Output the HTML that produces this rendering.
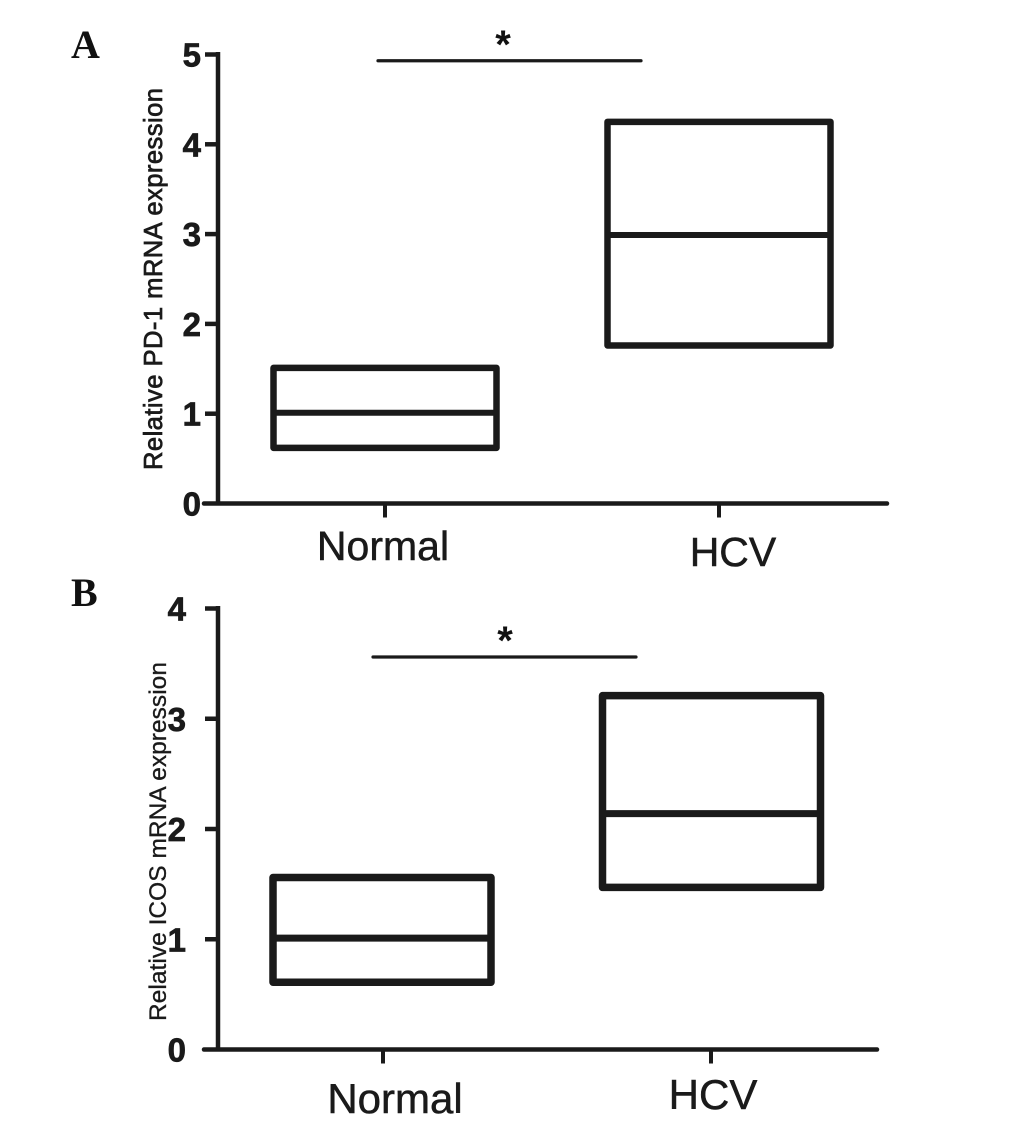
<!DOCTYPE html>
<html lang="en">
<head>
<meta charset="utf-8">
<title>Relative PD-1 and ICOS mRNA expression</title>
<style>
html,body{margin:0;padding:0;background:#fff;width:1033px;height:1122px;overflow:hidden}
svg{display:block}
text{font-family:"Liberation Sans",Arial,sans-serif;fill:#1a1a1a}
.panel{font-family:"Liberation Serif",serif;font-weight:bold;font-size:40px;fill:#111}
</style>
</head>
<body>
<svg id="chart" xmlns="http://www.w3.org/2000/svg" width="1033" height="1122" viewBox="0 0 1033 1122">
  <rect width="1033" height="1122" fill="#fff"/>
  <text class="panel" x="71" y="58">A</text>
  <text class="panel" x="71" y="606">B</text>
  <g id="panel-a"></g>
  <g id="panel-b"></g>
</svg>
<script>
const categories = ['Normal', 'HCV'];

const pd1Ticks = [0, 1, 2, 3, 4, 5];
const pd1Upper = [1.51, 4.25];
const pd1Median = [1.01, 2.99];
const pd1Lower = [0.62, 1.76];
const pd1Significance = 4.93;

const icosTicks = [0, 1, 2, 3, 4];
const icosUpper = [1.56, 3.21];
const icosMedian = [1.01, 2.14];
const icosLower = [0.61, 1.47];
const icosSignificance = 3.56;

const NS = 'http://www.w3.org/2000/svg';
const INK = '#1a1a1a';

function el(parent, tag, attrs, content) {
  const node = document.createElementNS(NS, tag);
  for (const key in attrs) node.setAttribute(key, attrs[key]);
  if (content !== undefined) node.textContent = content;
  parent.appendChild(node);
  return node;
}

function drawPanel(root, cfg) {
  const yScale = v => cfg.y0 + (cfg.yTop - cfg.y0) * v / cfg.ticks[cfg.ticks.length - 1];
  const xScale = i => cfg.xStart + cfg.xStep * i;
  const slug = cfg.slug;

  const yAxis = el(root, 'line', {x1: cfg.axisX, x2: cfg.axisX, y1: yScale(cfg.ticks[cfg.ticks.length - 1]) - 2.5, y2: cfg.y0 + 2, stroke: INK, 'stroke-width': 4.5});
  
  

  const xAxis = el(root, 'line', {x1: cfg.axisX - 14, x2: cfg.xEnd, y1: cfg.y0, y2: cfg.y0, stroke: INK, 'stroke-width': 4.5, 'stroke-linecap': 'round'});
  
  

  cfg.ticks.forEach(t => {
    const py = yScale(t);
    if (t !== 0) {
      const tick = el(root, 'line', {x1: cfg.axisX - 13, x2: cfg.axisX, y1: py, y2: py, stroke: INK, 'stroke-width': 4.5});
      
      
    }
    const label = el(root, 'text', {x: cfg.tickLabelX, y: py + 12, 'text-anchor': 'end', 'font-size': cfg.tickFont, 'font-weight': 'bold', stroke: INK, 'stroke-width': 0.7}, String(t));
    
    
  });

  cfg.categories.forEach((name, i) => {
    const cx = xScale(i);
    const tick = el(root, 'line', {x1: cx, x2: cx, y1: cfg.y0, y2: cfg.y0 + 14, stroke: INK, 'stroke-width': 4});
    
    

    const label = el(root, 'text', {x: cfg.catLabelX[i], y: cfg.catLabelY[i], 'text-anchor': 'middle', 'font-size': cfg.catFont, stroke: INK, 'stroke-width': 0.5}, name);
    
    

    const left = cx + cfg.boxOffset[i] - cfg.boxWidth / 2;
    const top = yScale(cfg.upper[i]);
    const bottom = yScale(cfg.lower[i]);
    const box = el(root, 'rect', {x: left, y: top, width: cfg.boxWidth, height: bottom - top, fill: 'none', stroke: INK, 'stroke-width': cfg.boxStroke, 'stroke-linejoin': 'round'});
    
    

    const my = yScale(cfg.median[i]);
    const median = el(root, 'line', {x1: left, x2: left + cfg.boxWidth, y1: my, y2: my, stroke: INK, 'stroke-width': cfg.medianStroke});
    
    
  });

  const sy = yScale(cfg.significance);
  const bar = el(root, 'line', {x1: cfg.sigX1, x2: cfg.sigX2, y1: sy, y2: sy, stroke: INK, 'stroke-width': 3.2, 'stroke-linecap': 'round'});
  
  

  const star = el(root, 'text', {x: cfg.starX, y: sy + cfg.starDy, 'text-anchor': 'middle', 'font-size': 40, 'font-weight': 'bold', style: 'fill:#111'}, '*');
  
  

  const title = el(root, 'text', {
    transform: 'translate(' + cfg.titleX + ',' + cfg.titleY + ') rotate(-90)',
    'font-size': cfg.titleFont,
    stroke: INK,
    'stroke-width': cfg.titleStroke,
    textLength: cfg.titleLength,
    lengthAdjust: 'spacing'
  }, cfg.title);
  
  
}

drawPanel(document.getElementById('panel-a'), {
  slug: 'pd1', categories: categories, ticks: pd1Ticks,
  upper: pd1Upper, median: pd1Median, lower: pd1Lower, significance: pd1Significance,
  y0: 503.5, yTop: 54.5, axisX: 218, xEnd: 887,
  xStart: 385, xStep: 334, boxWidth: 223, boxOffset: [0, 0], boxStroke: 6.5, medianStroke: 6,
  tickLabelX: 201, tickFont: 33,
  catFont: 41, catLabelX: [383, 733], catLabelY: [560, 566],
  sigX1: 378, sigX2: 641, starX: 503, starDy: -3,
  title: 'Relative PD-1 mRNA expression', titleX: 162, titleY: 470,
  titleFont: 25.6, titleStroke: 0.7, titleLength: 382
});

drawPanel(document.getElementById('panel-b'), {
  slug: 'icos', categories: categories, ticks: icosTicks,
  upper: icosUpper, median: icosMedian, lower: icosLower, significance: icosSignificance,
  y0: 1049.5, yTop: 608.5, axisX: 218, xEnd: 877,
  xStart: 383, xStep: 328, boxWidth: 218, boxOffset: [-1, 0.5], boxStroke: 7.5, medianStroke: 7,
  tickLabelX: 186, tickFont: 33,
  catFont: 42, catLabelX: [395, 713], catLabelY: [1113, 1109],
  sigX1: 373, sigX2: 636, starX: 505, starDy: -3,
  title: 'Relative ICOS mRNA expression', titleX: 166, titleY: 1021,
  titleFont: 24.5, titleStroke: 0.3, titleLength: 359
});
</script>
</body>
</html>
